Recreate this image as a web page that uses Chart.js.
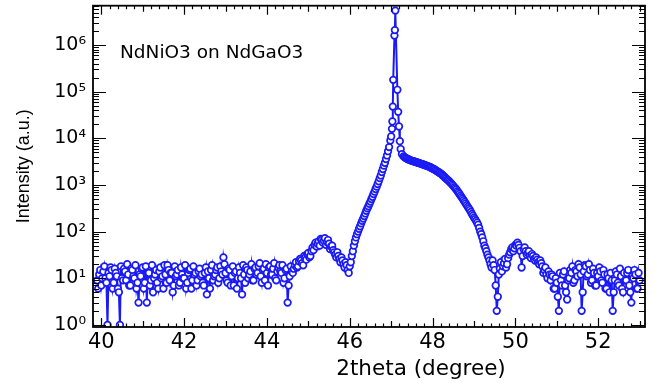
<!DOCTYPE html>
<html><head><meta charset="utf-8">
<script src="https://cdn.jsdelivr.net/npm/chart.js@4.4.1/dist/chart.umd.min.js"></script>
<style>html,body{margin:0;padding:0;background:#fff;overflow:hidden}canvas{display:block}</style>
</head><body>
<canvas id="c" width="654" height="383"></canvas>
<script>
// 2theta positions (degree), main scan points
const twoTheta = [
39.90,39.95,40.00,40.05,40.10,40.15,40.20,40.25,40.30,40.35,
40.40,40.45,40.50,40.55,40.60,40.65,40.70,40.75,40.80,40.85,
40.90,40.95,41.00,41.05,41.10,41.15,41.20,41.25,41.30,41.35,
41.40,41.45,41.50,41.55,41.60,41.65,41.70,41.75,41.80,41.85,
41.90,41.95,42.00,42.05,42.10,42.15,42.20,42.25,42.30,42.35,
42.40,42.45,42.50,42.55,42.60,42.65,42.70,42.75,42.80,42.85,
42.90,42.95,43.00,43.05,43.10,43.15,43.20,43.25,43.30,43.35,
43.40,43.45,43.50,43.55,43.60,43.65,43.70,43.75,43.80,43.85,
43.90,43.95,44.00,44.05,44.10,44.15,44.20,44.25,44.30,44.35,
44.40,44.45,44.50,44.55,44.60,
44.65,44.70,44.75,44.80,44.85,44.90,44.95,45.00,45.05,45.10,
45.15,45.20,45.25,45.30,45.35,45.40,45.45,45.50,45.55,45.60,
45.65,45.70,45.75,45.80,45.85,45.90,45.95,46.00,46.05,46.10,
46.15,46.20,46.25,46.30,46.35,46.40,46.45,46.50,46.55,46.60,
46.65,46.70,46.75,46.80,46.85,46.90,46.95,
46.98,47.00,47.02,47.03,47.04,47.05,47.08,47.09,47.10,47.15,
47.17,47.19,47.21,47.23,47.26,
47.30,47.35,47.40,47.45,47.50,47.55,47.60,47.65,47.70,47.75,
47.80,47.85,47.90,47.95,48.00,48.05,48.10,48.15,48.20,48.25,
48.30,48.35,48.40,48.45,48.50,48.55,48.60,48.65,48.70,48.75,
48.80,48.85,48.90,48.95,49.00,49.05,49.10,49.15,49.20,49.25,
49.30,49.35,49.40,49.45,49.50,49.55,49.60,49.65,49.70,49.75,
49.80,49.85,49.90,49.95,50.00,50.05,50.10,50.15,50.20,50.25,
50.30,50.35,50.40,50.45,50.50,50.55,50.60,50.65,50.70,50.75,
50.80,50.85,50.90,50.95,51.00,51.05,51.10,51.15,51.20,51.25,
51.30,51.35,51.40,51.45,51.50,51.55,51.60,51.65,51.70,51.75,
51.80,51.85,51.90,51.95,52.00,52.05,52.10,52.15,52.20,52.25,
52.30,52.35,52.40,52.45,52.50,52.55,52.60,52.65,52.70,52.75,
52.80,52.85,52.90,52.95,53.00
];
// measured intensity (a.u.) at twoTheta
const intensity = [
9,12,7,14,10,1,11,15,8,13,
6,1,10,16,9,12,7,15,10,6,
3,11,17,8,3,13,9,5,12,8,
14,10,6,12,19,9,13,7,11,15,
8,12,10,6,13,16,9,12,7,14,
11,8,13,4.5,10,15,9,12,17,10,
14,28,13,8,15,11,7,14,10,13,
4.5,12,17,10,14,9,16,12,18,11,
15,9,13,17,12,16,10,14,19,13,
8,15,3,11,14,
16,22,18,26,21,30,25,35,30,45,
52,48,62,70,58,72,60,55,48,40,
32,36,26,28,20,22,15,18,30,50,
75,100,130,170,215,280,350,440,560,720,
920,1200,1600,2200,3000,4300,6500,
9000,11000,16000,23000,48000,180000,1600000,2100000,5500000,110000,
37000,18000,8700,5900,4600,
4100,3800,3600,3450,3300,3200,3100,3000,2900,2800,
2700,2600,2500,2400,2250,2150,2000,1880,1750,1600,
1450,1320,1200,1080,960,850,740,640,550,470,
400,340,290,240,200,170,140,100,75,50,
38,28,20,24,15,2,12,22,18,26,
20,32,42,38,52,58,45,17,42,38,
35,30,33,26,28,22,24,18,15,12,
14,9,11,6,8,2,9,12,7,3.5,
10,13,8,15,11,17,2,14,18,12,
15,9,13,7,11,14,8,12,6,10,
13,2,9,12,7,11,5,9,13,7,
3,10,12,6,9
];
// interleaved scan points (half-step)
const twoThetaFine = [
39.925,39.975,40.025,40.075,40.125,40.175,40.225,40.275,40.325,40.375,
40.425,40.475,40.525,40.575,40.625,40.675,40.725,40.775,40.825,40.875,
40.925,40.975,41.025,41.075,41.125,41.175,41.225,41.275,41.325,41.375,
41.425,41.475,41.525,41.575,41.625,41.675,41.725,41.775,41.825,41.875,
41.925,41.975,42.025,42.075,42.125,42.175,42.225,42.275,42.325,42.375,
42.425,42.475,42.525,42.575,42.625,42.675,42.725,42.775,42.825,42.875,
42.925,42.975,43.025,43.075,43.125,43.175,43.225,43.275,43.325,43.375,
43.425,43.475,43.525,43.575,43.625,43.675,43.725,43.775,43.825,43.875,
43.925,43.975,44.025,44.075,44.125,44.175,44.225,44.275,44.325,44.375,
44.425,44.475,44.525,44.575,
44.625,44.675,44.725,44.775,44.825,44.875,44.925,44.975,45.025,45.075,
45.125,45.175,45.225,45.275,45.325,45.375,45.425,45.475,45.525,45.575,
45.625,45.675,45.725,45.775,45.825,45.875,45.925,45.975,46.025,
46.075,46.125,46.175,46.225,46.275,46.325,46.375,46.425,46.475,46.525,
46.575,46.625,46.675,46.725,46.775,46.825,46.875,46.925,
47.325,47.375,47.425,47.475,47.525,47.575,47.625,47.675,47.725,47.775,
47.825,47.875,47.925,47.975,48.025,48.075,48.125,48.175,48.225,48.275,
48.325,48.375,48.425,48.475,48.525,48.575,48.625,48.675,48.725,48.775,
48.825,48.875,48.925,48.975,49.025,49.075,49.125,49.175,49.225,49.275,
49.325,
49.375,49.425,49.475,49.525,49.575,49.625,49.675,49.725,49.775,49.825,
49.875,49.925,49.975,50.025,50.075,50.125,50.175,50.225,50.275,50.325,
50.375,50.425,50.475,50.525,50.575,50.625,50.675,50.725,50.775,50.825,
50.875,50.925,50.975,51.025,51.075,51.125,51.175,51.225,51.275,51.325,
51.375,51.425,51.475,51.525,51.575,51.625,51.675,51.725,51.775,51.825,
51.875,51.925,51.975,52.025,52.075,52.125,52.175,52.225,52.275,52.325,
52.375,52.425,52.475,52.525,52.575,52.625,52.675,52.725,52.775,52.825,
52.875,52.925,52.975
];
const intensityFine = [
6,15,10,18,8,13,17,6,16,11,
5,18,9,14,20,7,16,11,19,8,
12,16,6,18,13,7,19,10,15,6,
17,11,19,8,15,13,5,18,12,7,
17,10,19,8,15,6,18,13,9,16,
12,7,17,14,6,19,11,15,8,18,
12,20,9,16,7,18,13,6,17,10,
19,8,15,12,20,9,17,13,21,8,
16,20,7,18,12,21,9,17,14,19,
10,16,7,18,
13,19,17,23,24,19,28,33,28,38,
40,58,55,50,66,64,52,66,42,50,
36,28,30,22,24,17,19,13,22,
38,62,88,115,150,190,245,315,395,500,
640,820,1050,1400,1900,2600,3600,5300,
3950,3700,3520,3380,3250,3150,3050,2950,2850,2750,
2650,2550,2450,2320,2200,2080,1940,1810,1680,1520,
1380,1260,1140,1020,900,800,690,590,510,435,
370,315,265,220,185,155,120,88,62,44,
32,
24,17,19,7,4,16,14,21,17,27,
36,46,44,50,52,38,30,46,32,38,
27,30,24,25,20,21,13,17,10,12,
12,6,10,4,13,7,14,5,9,15,
18,9,14,20,12,5,19,11,20,8,
16,7,13,17,9,15,6,12,5,9,
5,14,8,16,6,13,9,15,5,11,
15,6,13
];
const xTickValues = [40,42,44,46,48,50,52];
const yTickValues = [1,10,100,1000,10000,100000,1000000];
const yTickLabels = ['10\u2070','10\u00B9','10\u00B2','10\u00B3','10\u2074','10\u2075','10\u2076'];
const seriesName = 'NdNiO3 on NdGaO3';
const xTitle = '2theta (degree)';
const yTitle = 'Intensity (a.u.)';

const FONT = '"DejaVu Sans", "Liberation Sans", sans-serif';

const points = twoTheta.map((t, i) => ({x: t, y: intensity[i]}))
  .concat(twoThetaFine.map((t, i) => ({x: t, y: intensityFine[i]})))
  .sort((a, b) => a.x - b.x);

const frameTicks = {
  id: 'frameTicks',
  afterDraw(chart) {
    const {ctx, chartArea: a, scales: {x, y}} = chart;
    ctx.save();
    ctx.strokeStyle = '#000';
    ctx.lineWidth = 1.2;
    ctx.beginPath();
    for (let k = Math.ceil(x.min * 5); k <= Math.floor(x.max * 5); k++) {
      const px = Math.round(x.getPixelForValue(k / 5)) + 0.5;
      const len = k % 10 === 0 ? 9 : (k % 5 === 0 ? 6 : 3.5);
      ctx.moveTo(px, a.bottom); ctx.lineTo(px, a.bottom - len);
      ctx.moveTo(px, a.top); ctx.lineTo(px, a.top + len);
    }
    for (let d = 0; d <= 6; d++) {
      for (let m = 1; m <= 9; m++) {
        const v = m * Math.pow(10, d);
        if (v < y.min || v > y.max) continue;
        const py = Math.round(y.getPixelForValue(v)) + 0.5;
        const len = m === 1 ? 13 : 6;
        ctx.moveTo(a.left, py); ctx.lineTo(a.left + len, py);
        ctx.moveTo(a.right, py); ctx.lineTo(a.right - len, py);
      }
    }
    ctx.stroke();
    ctx.lineWidth = 1.8;
    ctx.strokeRect(a.left, a.top, a.right - a.left, a.bottom - a.top);
    ctx.fillStyle = '#000';
    ctx.textBaseline = 'middle';
    ctx.textAlign = 'center';
    ctx.font = '21.5px ' + FONT;
    ctx.fillText(xTitle, 421, 369);
    ctx.textAlign = 'left';
    ctx.font = '18.5px ' + FONT;
    ctx.fillText(seriesName, 120, 53);
    ctx.restore();
  }
};

new Chart(document.getElementById('c'), {
  type: 'line',
  data: {
    datasets: [{
      label: seriesName,
      data: points,
      borderColor: '#1a1af5',
      borderWidth: 2,
      pointRadius: 3.3,
      pointBorderWidth: 1.7,
      pointBorderColor: '#1a1af5',
      pointBackgroundColor: '#ffffff',
      tension: 0,
      fill: false
    }]
  },
  options: {
    responsive: false,
    animation: false,
    devicePixelRatio: 1,
    layout: {padding: {top: 3, right: 9, left: 0, bottom: 0}},
    plugins: {legend: {display: false}, tooltip: {enabled: false}},
    scales: {
      x: {
        type: 'linear', min: 39.8, max: 53.13,
        afterBuildTicks: s => { s.ticks = xTickValues.map(v => ({value: v})); },
        afterFit: s => { s.height = 56; s.paddingLeft = 0; s.paddingRight = 0; s.paddingTop = 0; s.paddingBottom = 0; },
        grid: {display: false, drawTicks: false},
        border: {display: false},
        ticks: {autoSkip: false, maxRotation: 0, padding: 3, color: '#000',
          font: {family: FONT, size: 21}, callback: v => String(v)}
      },
      y: {
        type: 'logarithmic', min: 0.9, max: 7e6,
        afterBuildTicks: s => { s.ticks = yTickValues.map(v => ({value: v})); },
        afterFit: s => { s.width = 93; s.paddingLeft = 0; s.paddingRight = 0; s.paddingTop = 0; s.paddingBottom = 0; },
        grid: {display: false, drawTicks: false},
        border: {display: false},
        ticks: {autoSkip: false, padding: 7, color: '#000',
          font: {family: FONT, size: 19},
          callback: v => yTickLabels[yTickValues.indexOf(v)]},
        title: {display: true, text: yTitle, color: '#000',
          font: {family: '"Liberation Sans Narrow", "Liberation Sans", sans-serif', size: 18},
          padding: {top: 13, bottom: 0}}
      }
    }
  },
  plugins: [frameTicks]
});
</script>
</body></html>
